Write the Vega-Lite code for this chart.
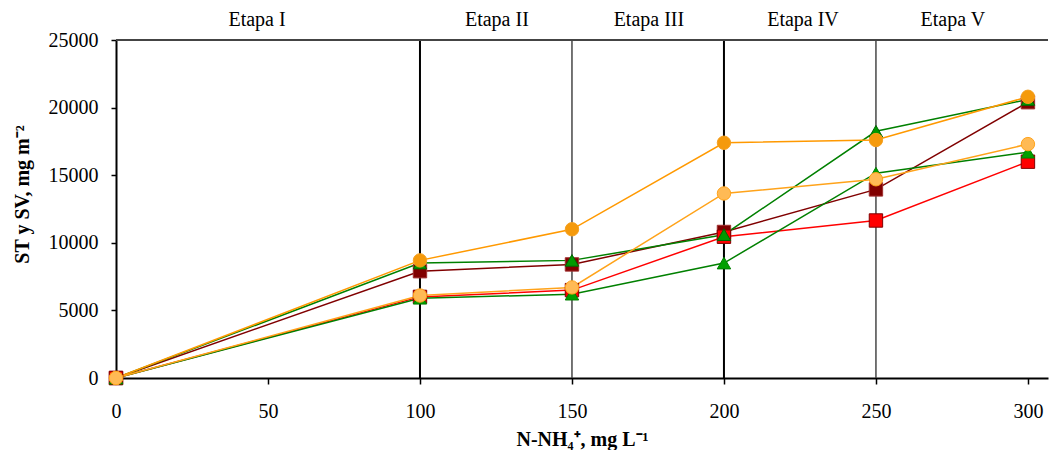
{
  "$schema": "https://vega.github.io/schema/vega-lite/v6.json",
  "autosize": "none",
  "width": 932,
  "height": 338,
  "padding": {"left": 116, "top": 40, "right": 1, "bottom": 72},
  "background": "white",
  "config": {"view": {"stroke": null}, "font": "Liberation Serif"},
  "datasets": {
    "series": [
      {"s": "A", "x": 0, "y": 0}, {"s": "A", "x": 100, "y": 7900}, {"s": "A", "x": 150, "y": 8400}, {"s": "A", "x": 200, "y": 10800}, {"s": "A", "x": 250, "y": 13950}, {"s": "A", "x": 300, "y": 20400},
      {"s": "B", "x": 0, "y": 0}, {"s": "B", "x": 100, "y": 6000}, {"s": "B", "x": 150, "y": 6500}, {"s": "B", "x": 200, "y": 10450}, {"s": "B", "x": 250, "y": 11650}, {"s": "B", "x": 300, "y": 16000},
      {"s": "C", "x": 0, "y": 0}, {"s": "C", "x": 100, "y": 8500}, {"s": "C", "x": 150, "y": 8700}, {"s": "C", "x": 200, "y": 10600}, {"s": "C", "x": 250, "y": 18250}, {"s": "C", "x": 300, "y": 20600},
      {"s": "D", "x": 0, "y": 0}, {"s": "D", "x": 100, "y": 5900}, {"s": "D", "x": 150, "y": 6200}, {"s": "D", "x": 200, "y": 8500}, {"s": "D", "x": 250, "y": 15150}, {"s": "D", "x": 300, "y": 16700},
      {"s": "E", "x": 0, "y": 0}, {"s": "E", "x": 100, "y": 8700}, {"s": "E", "x": 150, "y": 11000}, {"s": "E", "x": 200, "y": 17400}, {"s": "E", "x": 250, "y": 17600}, {"s": "E", "x": 300, "y": 20800},
      {"s": "F", "x": 0, "y": 0}, {"s": "F", "x": 100, "y": 6100}, {"s": "F", "x": 150, "y": 6700}, {"s": "F", "x": 200, "y": 13650}, {"s": "F", "x": 250, "y": 14700}, {"s": "F", "x": 300, "y": 17300}
    ],
    "major": [{"x": 100}, {"x": 200}],
    "minor": [{"x": 150}, {"x": 250}],
    "stages": [
      {"label": "Etapa I", "x": 46.4, "y": 26500},
      {"label": "Etapa II", "x": 125.3, "y": 26500},
      {"label": "Etapa III", "x": 175.3, "y": 26500},
      {"label": "Etapa IV", "x": 226, "y": 26500},
      {"label": "Etapa V", "x": 275.3, "y": 26500}
    ],
    "top": [{"y": 25000}]
  },
  "layer": [
    {
      "data": {"name": "minor"},
      "mark": {"type": "rule", "color": "#3a3a3a", "strokeWidth": 1.4},
      "encoding": {"x": {"field": "x", "type": "quantitative"}}
    },
    {
      "data": {"name": "major"},
      "mark": {"type": "rule", "color": "#000000", "strokeWidth": 2},
      "encoding": {"x": {"field": "x", "type": "quantitative"}}
    },
    {
      "data": {"name": "top"},
      "mark": {"type": "rule", "color": "#444444", "strokeWidth": 1.8},
      "encoding": {"y": {"field": "y", "type": "quantitative"}}
    },
    {
      "data": {"name": "series"},
      "mark": {"type": "line", "strokeWidth": 1.5},
      "encoding": {
        "x": {"field": "x", "type": "quantitative",
          "scale": {"domain": [0, 306.6], "nice": false, "zero": true},
          "axis": {"values": [0, 50, 100, 150, 200, 250, 300], "title": "N-NH₄⁺, mg L⁻¹", "titleFont": "Liberation Serif", "titleFontSize": 20, "titleFontWeight": "bold", "titleColor": "#000", "titlePadding": 8, "labelFont": "Liberation Serif", "labelFontSize": 20, "labelColor": "#000", "labelPadding": 17, "tickSize": 6, "tickColor": "#000", "tickWidth": 1.5, "domainColor": "#000", "domainWidth": 2, "grid": false, "labelFlush": false}
        },
        "y": {"field": "y", "type": "quantitative",
          "scale": {"domain": [0, 25000], "nice": false},
          "axis": {"values": [0, 5000, 10000, 15000, 20000, 25000], "format": "d", "title": "ST  y SV, mg m⁻²", "titleFont": "Liberation Serif", "titleFontSize": 20, "titleFontWeight": "bold", "titleColor": "#000", "titleY": 154, "titlePadding": 16, "labelFont": "Liberation Serif", "labelFontSize": 20, "labelColor": "#000", "labelPadding": 13, "tickSize": 5, "tickColor": "#000", "tickWidth": 1.5, "domainColor": "#000", "domainWidth": 2, "grid": false}
        },
        "color": {"field": "s", "type": "nominal", "scale": {"domain": ["A", "B", "C", "D", "E", "F"], "range": ["#800000", "#FF0000", "#008000", "#008000", "#FF9900", "#FFA31A"]}, "legend": null},
        "order": {"field": "x", "type": "quantitative"}
      }
    },
    {
      "data": {"name": "series"},
      "mark": {"type": "point", "filled": true, "opacity": 1, "strokeWidth": 1},
      "encoding": {
        "x": {"field": "x", "type": "quantitative"},
        "y": {"field": "y", "type": "quantitative"},
        "fill": {"field": "s", "type": "nominal", "scale": {"domain": ["A", "B", "C", "D", "E", "F"], "range": ["#800000", "#FF0000", "#009900", "#00A000", "#F59A0C", "#FFBA55"]}, "legend": null},
        "stroke": {"field": "s", "type": "nominal", "scale": {"domain": ["A", "B", "C", "D", "E", "F"], "range": ["#A03030", "#800000", "#006600", "#008000", "#F5A020", "#FFA31A"]}, "legend": null},
        "shape": {"field": "s", "type": "nominal", "scale": {"domain": ["A", "B", "C", "D", "E", "F"], "range": ["square", "square", "triangle-up", "triangle-up", "circle", "circle"]}, "legend": null},
        "size": {"field": "s", "type": "nominal", "scale": {"domain": ["A", "B", "C", "D", "E", "F"], "range": [180, 180, 200, 200, 95, 95]}, "legend": null}
      }
    },
    {
      "data": {"name": "stages"},
      "mark": {"type": "text", "font": "Liberation Serif", "fontSize": 20, "color": "#000", "clip": false, "baseline": "middle"},
      "encoding": {
        "x": {"field": "x", "type": "quantitative"},
        "y": {"field": "y", "type": "quantitative"},
        "text": {"field": "label"}
      }
    }
  ]
}
